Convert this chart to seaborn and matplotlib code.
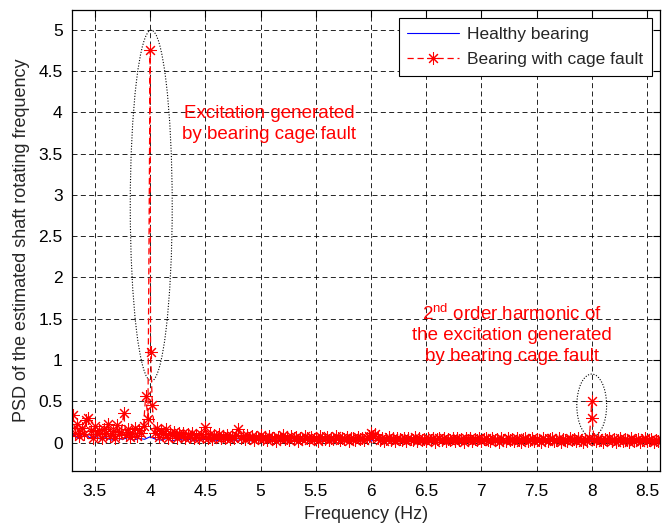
import numpy as np
import pandas as pd
import matplotlib
matplotlib.use("Agg")
import matplotlib.pyplot as plt
from matplotlib.patches import Ellipse
from matplotlib.ticker import FormatStrFormatter
import seaborn as sns

# ---------------- data ----------------
# Fault spectrum on a 0.02 Hz grid from 3.30 Hz to 8.62 Hz
fault_start, fault_step, fault_n = 3.30, 0.02, 267
psd_fault_330_398 = [0.34, 0.12, 0.22, 0.08, 0.18, 0.10, 0.27, 0.30, 0.14, 0.06,
                     0.20, 0.10, 0.15, 0.05, 0.17, 0.12, 0.22, 0.08, 0.14, 0.06,
                     0.21, 0.10, 0.13, 0.36, 0.09, 0.16, 0.07, 0.12, 0.18, 0.08,
                     0.15, 0.11, 0.20, 0.57, 0.28]
psd_fault_400 = [4.75]
psd_fault_402_500 = [0.45, 0.12, 0.18, 0.07, 0.14, 0.10, 0.16, 0.06, 0.12, 0.09,
                     0.13, 0.05, 0.11, 0.08, 0.12, 0.05, 0.10, 0.07, 0.11, 0.06,
                     0.09, 0.05, 0.10, 0.07, 0.19, 0.06, 0.10, 0.04, 0.09, 0.07,
                     0.10, 0.05, 0.08, 0.06, 0.09, 0.04, 0.08, 0.06, 0.09, 0.16,
                     0.05, 0.08, 0.04, 0.09, 0.06, 0.08, 0.03, 0.07, 0.05, 0.09]
psd_fault_502_598 = [0.04, 0.07, 0.03, 0.08, 0.05, 0.06, 0.02, 0.07, 0.05, 0.09,
                     0.04, 0.06, 0.03, 0.08, 0.05, 0.07, 0.02, 0.06, 0.04, 0.08,
                     0.05, 0.03, 0.07, 0.04, 0.06, 0.02, 0.08, 0.05, 0.04, 0.07,
                     0.03, 0.06, 0.04, 0.08, 0.05, 0.03, 0.06, 0.04, 0.07, 0.02,
                     0.05, 0.06, 0.03, 0.07, 0.04, 0.05, 0.03, 0.06, 0.08]
psd_fault_600_604 = [0.11, 0.08, 0.10]
psd_fault_606_798 = [0.05, 0.03, 0.06, 0.02, 0.04, 0.07, 0.03, 0.05, 0.02, 0.06,
                     0.04, 0.03, 0.05, 0.02, 0.06, 0.04, 0.03, 0.07, 0.02, 0.05,
                     0.03, 0.04, 0.02, 0.06, 0.03, 0.05, 0.01, 0.04, 0.06, 0.03,
                     0.05, 0.02, 0.04, 0.03, 0.06, 0.02, 0.05, 0.03, 0.04, 0.01,
                     0.05, 0.03, 0.06, 0.02, 0.04, 0.03, 0.05, 0.02, 0.04, 0.06,
                     0.03, 0.02, 0.05, 0.03, 0.04, 0.01, 0.05, 0.03, 0.02, 0.06,
                     0.03, 0.04, 0.02, 0.05, 0.03, 0.01, 0.04, 0.06, 0.02, 0.03,
                     0.05, 0.02, 0.04, 0.03, 0.01, 0.05, 0.03, 0.02, 0.04, 0.06,
                     0.02, 0.03, 0.05, 0.01, 0.04, 0.03, 0.02, 0.05, 0.03, 0.04,
                     0.02, 0.05, 0.03, 0.01, 0.04, 0.02, 0.06]
psd_fault_800 = [0.50]
psd_fault_802_862 = [0.04, 0.02, 0.05, 0.03, 0.01, 0.04, 0.03, 0.05, 0.02, 0.04,
                     0.01, 0.03, 0.05, 0.02, 0.04, 0.03, 0.01, 0.05, 0.02, 0.03,
                     0.04, 0.01, 0.03, 0.05, 0.02, 0.03, 0.04, 0.01, 0.03, 0.02, 0.04]
# extra spectral lines right next to the fault peaks
freq_fault_extra = [4.004, 8.005]
psd_fault_extra = [1.10, 0.30]

# Healthy bearing spectrum on a 0.05 Hz grid from 3.30 Hz to 8.60 Hz
healthy_start, healthy_step, healthy_n = 3.30, 0.05, 107
psd_healthy = [0.10, 0.05, 0.12, 0.06, 0.08,
               0.04, 0.06, 0.03, 0.05, 0.04, 0.06, 0.03, 0.05, 0.04,
               0.07,
               0.04, 0.03, 0.05, 0.02, 0.04, 0.03, 0.04, 0.02, 0.03, 0.04,
               0.03, 0.02, 0.04, 0.03, 0.02, 0.03, 0.04, 0.02, 0.03, 0.02,
               0.03, 0.04, 0.02, 0.03, 0.02, 0.03, 0.02, 0.04, 0.02, 0.03,
               0.02, 0.03, 0.02, 0.03, 0.04, 0.02, 0.03, 0.02, 0.03, 0.02,
               0.03, 0.02, 0.03, 0.02, 0.04, 0.02, 0.03, 0.02, 0.03, 0.02,
               0.02, 0.03, 0.02, 0.03, 0.02, 0.03, 0.02, 0.02, 0.03, 0.02,
               0.03, 0.02, 0.03, 0.02, 0.02, 0.03, 0.02, 0.03, 0.02, 0.02,
               0.03, 0.02, 0.02, 0.03, 0.02, 0.03, 0.02, 0.02, 0.03, 0.02,
               0.02, 0.03, 0.02, 0.02, 0.03, 0.02, 0.02, 0.03, 0.02, 0.02,
               0.03, 0.02]

x_ticks = [3.5, 4, 4.5, 5, 5.5, 6, 6.5, 7, 7.5, 8, 8.5]
y_ticks = [0, 0.5, 1, 1.5, 2, 2.5, 3, 3.5, 4, 4.5, 5]

labels = ["Healthy bearing", "Bearing with cage fault"]
note1 = "Excitation generated\nby bearing cage fault"
note2 = "2$^{\\rm nd}$ order harmonic of\nthe excitation generated\nby bearing cage fault"

# ---------------- build tables ----------------
freq_grid = np.round(fault_start + fault_step * np.arange(fault_n), 3)
psd_grid = np.concatenate([psd_fault_330_398, psd_fault_400, psd_fault_402_500,
                           psd_fault_502_598, psd_fault_600_604, psd_fault_606_798,
                           psd_fault_800, psd_fault_802_862])
df_fault = pd.DataFrame({"freq": np.concatenate([freq_grid, freq_fault_extra]),
                         "psd": np.concatenate([psd_grid, psd_fault_extra])})
df_fault = df_fault.sort_values("freq").reset_index(drop=True)
df_healthy = pd.DataFrame({"freq": np.round(healthy_start + healthy_step * np.arange(healthy_n), 3),
                           "psd": psd_healthy})

# ---------------- style ----------------
sns.set_style("white")
plt.rcParams['font.family'] = ['Liberation Sans', 'DejaVu Sans']
plt.rcParams['mathtext.fontset'] = 'custom'
plt.rcParams['mathtext.rm'] = 'Liberation Sans'
plt.rcParams['mathtext.it'] = 'Liberation Sans:italic'

fig = plt.figure(figsize=(6.67, 5.23), dpi=100)
ax = fig.add_axes([0.1084, 0.099, 0.881, 0.882])

sns.lineplot(data=df_healthy, x="freq", y="psd", ax=ax, color="#0000FF",
             linewidth=0.8, estimator=None, sort=False, label=labels[0])
asterisk = (8, 2, 0)
sns.lineplot(data=df_fault, x="freq", y="psd", ax=ax, color="#FF0000",
             linewidth=0.9, linestyle=(0, (5, 3)), marker=asterisk, markersize=9,
             markeredgewidth=0.75, markeredgecolor="#FF0000",
             estimator=None, sort=False, label=labels[1])

ax.set_xlim(3.295, 8.618)
ax.set_ylim(-0.347, 5.24)
ax.set_xticks(x_ticks)
ax.set_yticks(y_ticks)
ax.xaxis.set_major_formatter(FormatStrFormatter('%g'))
ax.yaxis.set_major_formatter(FormatStrFormatter('%g'))
ax.tick_params(direction='in', top=True, right=True, length=5, width=0.8,
               labelsize=12.5, colors='black', pad=7)
ax.tick_params(axis='x', pad=9)
ax.grid(True, color='black', linestyle=(0, (6, 4)), linewidth=0.6)
ax.set_axisbelow(True)
for s in ax.spines.values():
    s.set_color('black')
    s.set_linewidth(0.9)

ax.set_xlabel("Frequency (Hz)", fontsize=13, labelpad=5)
ax.set_ylabel("PSD of the estimated shaft rotating frequency", fontsize=13, labelpad=6)

# annotations
ax.add_patch(Ellipse((4.01, 2.87), 0.38, 4.25, fill=False, edgecolor='black',
                     linestyle=(0, (1, 1.5)), linewidth=0.8))
ax.add_patch(Ellipse((8.0, 0.45), 0.27, 0.76, fill=False, edgecolor='black',
                     linestyle=(0, (1, 1.5)), linewidth=0.8))
ax.text(5.08, 3.86, note1, color='red', fontsize=13.5, ha='center', va='center',
        linespacing=1.25)
ax.text(7.28, 1.31, note2, color='red', fontsize=13.5, ha='center', va='center',
        linespacing=1.27)

leg = ax.legend(loc='upper right', fontsize=12.5, frameon=True, fancybox=False,
                edgecolor='black', framealpha=1, handlelength=3.0,
                borderaxespad=0.45, borderpad=0.5, labelspacing=0.6,
                handletextpad=0.45)
leg.get_frame().set_linewidth(0.8)

fig.savefig("out.png", dpi=100)
